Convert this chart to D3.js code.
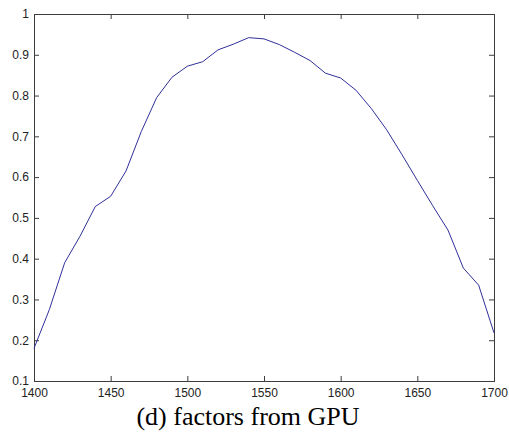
<!DOCTYPE html>
<html>
<head>
<meta charset="utf-8">
<script src="https://cdn.jsdelivr.net/npm/d3@7"></script>
<style>
  body { margin: 0; background: #fff; }
  svg { display: block; }
</style>
</head>
<body>
<svg id="chart"></svg>
<script>
"use strict";

// wavelength samples and the factor values
const wavelengths = [1400, 1410, 1420, 1430, 1440, 1450, 1460, 1470, 1480, 1490,
                     1500, 1510, 1520, 1530, 1540, 1550, 1560, 1570, 1580, 1590,
                     1600, 1610, 1620, 1630, 1640, 1650, 1660, 1670, 1680, 1690, 1700];
const factors = [0.18, 0.275, 0.39, 0.455, 0.528, 0.553, 0.615, 0.712, 0.795, 0.845,
                 0.872, 0.883, 0.912, 0.926, 0.942, 0.939, 0.925, 0.906, 0.886, 0.855,
                 0.843, 0.813, 0.768, 0.716, 0.655, 0.592, 0.53, 0.47, 0.377, 0.335, 0.218];

const x_ticks = [1400, 1450, 1500, 1550, 1600, 1650, 1700];
const y_ticks = [0.1, 0.2, 0.3, 0.4, 0.5, 0.6, 0.7, 0.8, 0.9, 1];
const caption = "(d) factors from GPU";

const width = 509, height = 432;
const margins = {top: 14, right: 15, bottom: 51, left: 34};
const plot_width = width - margins.left - margins.right;
const plot_height = height - margins.top - margins.bottom;

const x_scale = d3.scaleLinear().domain([1400, 1700]).range([0, plot_width]);
const y_scale = d3.scaleLinear().domain([0.1, 1]).range([plot_height, 0]);

const svg = d3.select("#chart")
    .attr("width", width)
    .attr("height", height);

svg.append("rect")
    .attr("width", width)
    .attr("height", height)
    .attr("fill", "white");

const plot = svg.append("g")
    .attr("transform", "translate(" + margins.left + "," + margins.top + ")");

const axis_color = "#3c3c3c";
const label_font = "'Liberation Sans', Arial, sans-serif";

// MATLAB style box: ticks pointing inwards on all four sides
function style_axis(g) {
    g.select(".domain").remove();
    g.selectAll("line").attr("stroke", axis_color);
    g.selectAll("text")
        .attr("fill", "#222")
        .style("font-family", label_font)
        .style("font-size", "12px");
}

const y_fmt = function (d) { return d === 1 ? "1" : d3.format(".1f")(d); };

plot.append("g")
    .attr("transform", "translate(0," + plot_height + ")")
    .call(d3.axisBottom(x_scale).tickValues(x_ticks).tickSizeInner(-5).tickSizeOuter(0)
              .tickPadding(7).tickFormat(d3.format("d")))
    .call(style_axis);

plot.append("g")
    .call(d3.axisTop(x_scale).tickValues(x_ticks).tickSizeInner(-5).tickSizeOuter(0).tickFormat(""))
    .call(style_axis);

plot.append("g")
    .call(d3.axisLeft(y_scale).tickValues(y_ticks).tickSizeInner(-5).tickSizeOuter(0)
              .tickPadding(5).tickFormat(y_fmt))
    .call(style_axis);

plot.append("g")
    .attr("transform", "translate(" + plot_width + ",0)")
    .call(d3.axisRight(y_scale).tickValues(y_ticks).tickSizeInner(-5).tickSizeOuter(0).tickFormat(""))
    .call(style_axis);

// the surrounding box
plot.append("rect")
    .attr("x", 0.5)
    .attr("y", 0.5)
    .attr("width", plot_width)
    .attr("height", plot_height)
    .attr("fill", "none")
    .attr("stroke", axis_color)
    .attr("stroke-width", 1);

const data = wavelengths.map(function (w, i) { return {x: w, y: factors[i]}; });

const line = d3.line()
    .x(function (d) { return x_scale(d.x); })
    .y(function (d) { return y_scale(d.y); });

plot.append("path")
    .datum(data)
    .attr("d", line)
    .attr("fill", "none")
    .attr("stroke", "#30309a")
    .attr("stroke-width", 1);

svg.append("text")
    .attr("x", 248)
    .attr("y", 425)
    .attr("text-anchor", "middle")
    .attr("fill", "#000")
    .style("font-family", "'Liberation Serif', 'Times New Roman', serif")
    .style("font-size", "26px")
    .text(caption);
</script>
</body>
</html>
